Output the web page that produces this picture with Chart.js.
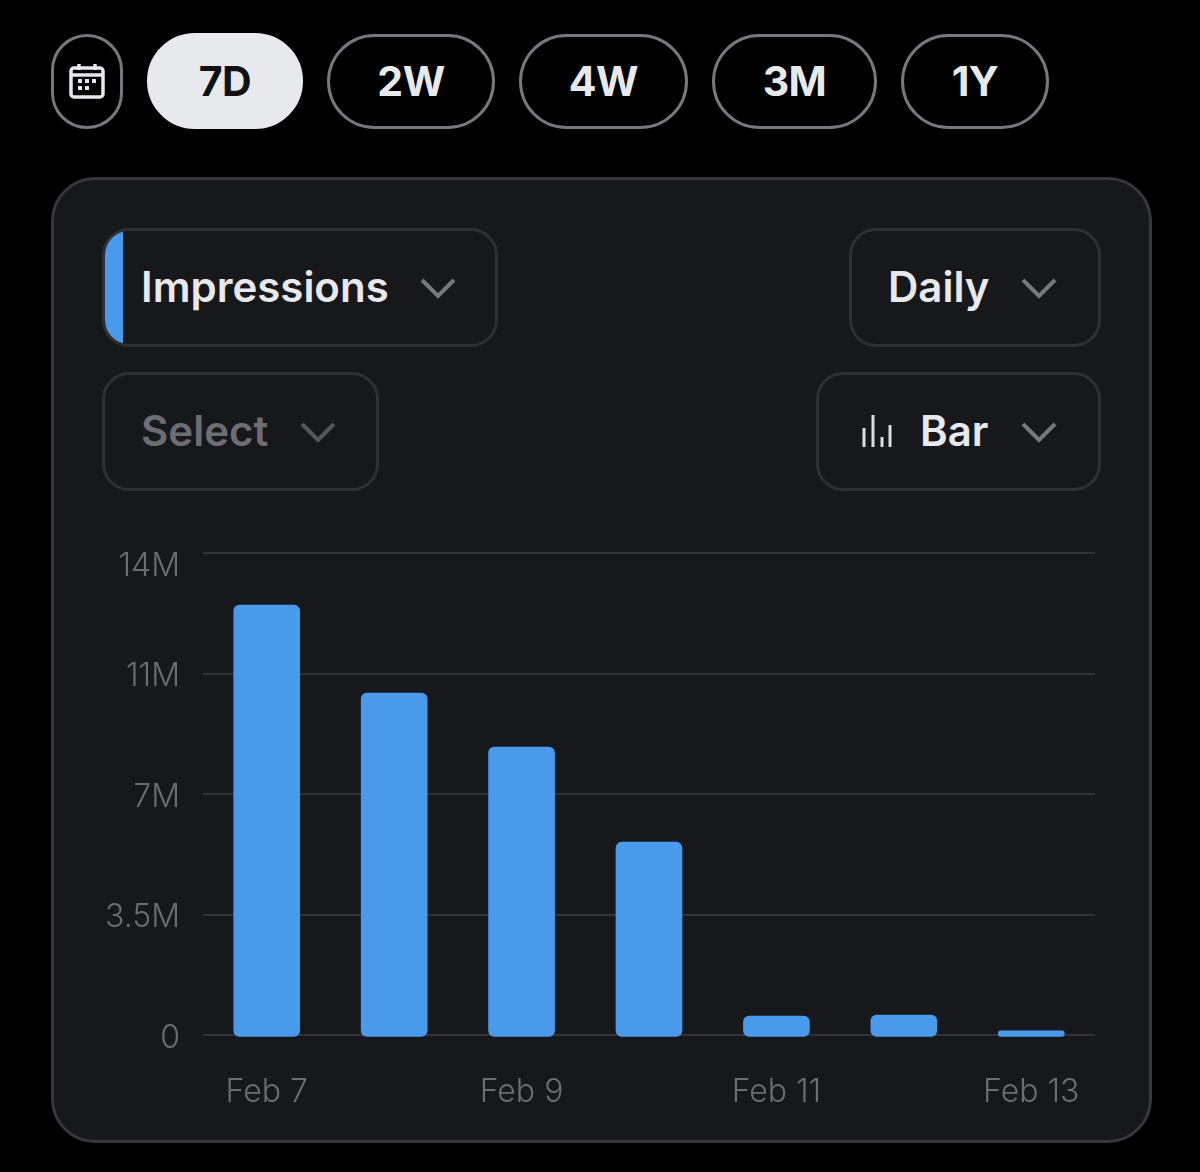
<!DOCTYPE html>
<html>
<head>
<meta charset="utf-8">
<title>Impressions</title>
<script src="https://cdn.jsdelivr.net/npm/chart.js@4/dist/chart.umd.min.js"></script>
<style>
  html, body { margin: 0; background: #000; }
  body { width: 1200px; height: 1172px; position: relative; overflow: hidden; font-family: Inter, sans-serif; }
  .pill, .panel, .drop { position: absolute; box-sizing: border-box; }
  .pill {
    border: 3px solid #77787c; border-radius: 48px; color: #e8e9ec;
    display: flex; align-items: center; justify-content: center;
    font-size: 41px; font-weight: 700; letter-spacing: -0.5px; padding-bottom: 1px;
  }
  .pill.on { background: #e8e9ec; border-color: #e8e9ec; color: #0f1114; }
  .panel { left: 51px; top: 177px; width: 1101px; height: 966px; background: #17181c; border: 3px solid #36373a; border-radius: 44px; }
  .drop {
    border: 3px solid #2f3034; border-radius: 27px; height: 119px; color: #e8e9ec;
    font-size: 42px; font-weight: 600; overflow: hidden;
  }
  .drop span { position: absolute; top: 50%; margin-top: -1px; transform: translateY(-50%); white-space: nowrap; line-height: 1; }
  .drop svg { position: absolute; }
  .dim { color: #6d6e72; }
  .stripe { position: absolute; left: 0; top: 0; bottom: 0; width: 18px; background: #4a9aec; }
  #wrap { position: absolute; left: 90px; top: 530px; width: 1020px; height: 600px; }
</style>
</head>
<body>
<div class="pill" style="left:51px;top:34px;width:72px;height:95px">
  <svg width="38" height="38" viewBox="0 0 38 38" fill="none" stroke="#e8e9ec" stroke-width="3.5">
    <rect x="3" y="6" width="32" height="29" rx="3"/>
    <path d="M3 13H35M11 2V8M27 2V8"/>
    <path d="M10 19h4M17 19h4M24 19h4M10 26h4M17 26h4" stroke-width="4"/>
  </svg>
</div>
<div class="pill on" style="left:147px;top:33px;width:156px;height:96px">7D</div>
<div class="pill" style="left:327px;top:34px;width:168px;height:95px">2W</div>
<div class="pill" style="left:519px;top:34px;width:169px;height:95px">4W</div>
<div class="pill" style="left:712px;top:34px;width:165px;height:95px">3M</div>
<div class="pill" style="left:901px;top:34px;width:148px;height:95px">1Y</div>

<div class="panel"></div>

<div class="drop" style="left:102px;top:228px;width:396px">
  <div class="stripe"></div>
  <span style="left:36px">Impressions</span>
  <svg style="left:315px;top:46px" width="36" height="22" fill="none" stroke="#77787c" stroke-width="4"><path d="M2 3L18 19L34 3"/></svg>
</div>
<div class="drop" style="left:849px;top:228px;width:252px">
  <span style="left:36px">Daily</span>
  <svg style="left:169px;top:46px" width="36" height="22" fill="none" stroke="#77787c" stroke-width="4"><path d="M2 3L18 19L34 3"/></svg>
</div>
<div class="drop dim" style="left:102px;top:372px;width:277px">
  <span style="left:36px">Select</span>
  <svg style="left:195px;top:46px" width="36" height="22" fill="none" stroke="#55565a" stroke-width="4"><path d="M2 3L18 19L34 3"/></svg>
</div>
<div class="drop" style="left:816px;top:372px;width:285px">
  <svg style="left:43px;top:39px" width="32" height="34" fill="none" stroke="#dcdde0" stroke-width="3"><path d="M2 14V33M11 1V33M20 23V33M28 11V33"/></svg>
  <span style="left:101px">Bar</span>
  <svg style="left:202px;top:46px" width="36" height="22" fill="none" stroke="#77787c" stroke-width="4"><path d="M2 3L18 19L34 3"/></svg>
</div>

<div id="wrap"><canvas id="chart" width="1020" height="600"></canvas></div>

<script>
// in millions
const days = ['Feb 7', 'Feb 8', 'Feb 9', 'Feb 10', 'Feb 11', 'Feb 12', 'Feb 13'];
const impressions = [12.49, 9.93, 8.36, 5.6, 0.55, 0.58, 0.12];
const shownDays = ['Feb 7', 'Feb 9', 'Feb 11', 'Feb 13'];

const yTicks = [0, 3.5, 7, 10.5, 14];
const yTickLabels = ['0', '3.5M', '7M', '11M', '14M'];

const tickFont = { family: 'Inter, sans-serif', size: 32, weight: '300', lineHeight: '20px' };
const tickColor = '#6c6d71';

new Chart(document.getElementById('chart'), {
  type: 'bar',
  data: {
    labels: days,
    datasets: [{
      label: 'Impressions',
      data: impressions,
      backgroundColor: '#4a9aec',
      borderRadius: 6,
      borderSkipped: false,
      barThickness: 66,
      // bars hang just under the zero line in the original
      base: -0.04,
      clip: false
    }]
  },
  options: {
    responsive: false,
    animation: false,
    layout: { padding: { top: 23, right: 15, left: 0, bottom: 0 } },
    plugins: { legend: { display: false }, tooltip: { enabled: false } },
    scales: {
      x: {
        grid: { display: false },
        border: { display: false },
        // fixed height, and no extra room for the outer labels
        afterFit: s => { s.height = 95; s.paddingLeft = 0; s.paddingRight = 0; },
        ticks: {
          autoSkip: false,
          maxRotation: 0,
          padding: 39,
          color: tickColor,
          font: tickFont,
          callback: function (v) {
            const d = this.getLabelForValue(v);
            return shownDays.includes(d) ? d : '';
          }
        }
      },
      y: {
        min: 0,
        max: 14,
        afterFit: s => { s.width = 113; s.paddingTop = 0; s.paddingBottom = 0; },
        afterBuildTicks: s => { s.ticks = yTicks.map(v => ({ value: v })); },
        grid: { color: '#323337', lineWidth: 2, drawTicks: false },
        border: { display: false },
        ticks: {
          padding: 23,
          labelOffset: 3,
          color: tickColor,
          font: tickFont,
          // top label sits below its gridline, so it gets an empty first line
          callback: v => {
            const t = yTickLabels[yTicks.indexOf(v)];
            return v === 14 ? ['', t] : t;
          }
        }
      }
    }
  }
});
</script>
</body>
</html>
